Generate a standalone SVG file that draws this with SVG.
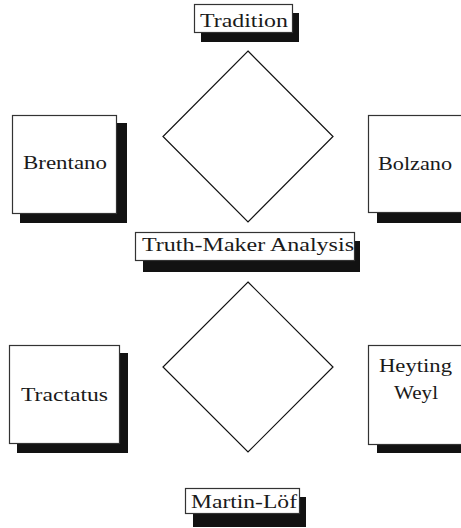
<svg xmlns="http://www.w3.org/2000/svg" width="461" height="528" viewBox="0 0 461 528">
<style>
.box{fill:#fff;stroke:#333;stroke-width:1.2}
.sh{fill:#121212;stroke:none}
.dia{fill:none;stroke:#111;stroke-width:1.2}
text{font-family:"Liberation Serif","Times New Roman",serif;font-size:19px;fill:#1a1a1a}
</style>
<rect width="461" height="528" fill="#fff"/>
<g id="connectors">
  <polygon class="dia" points="248,51 333,136.5 248,222 163,136.5"/>
  <polygon class="dia" points="248,282 333,367 248,452 163,367"/>
</g>
<g id="tradition">
  <rect class="sh" x="201" y="13" width="98" height="29"/>
  <rect class="box" x="194.5" y="4.5" width="98" height="28"/>
  <text x="200" y="27" textLength="88" lengthAdjust="spacingAndGlyphs">Tradition</text>
</g>
<g id="brentano">
  <rect class="sh" x="20" y="123" width="107" height="100"/>
  <rect class="box" x="12.5" y="115.5" width="104" height="98"/>
  <text x="23" y="169" textLength="84" lengthAdjust="spacingAndGlyphs">Brentano</text>
</g>
<g id="bolzano">
  <rect class="sh" x="377" y="123" width="100" height="100"/>
  <rect class="box" x="368.5" y="115.5" width="110" height="97"/>
  <text x="378" y="170" textLength="74" lengthAdjust="spacingAndGlyphs">Bolzano</text>
</g>
<g id="truth-maker">
  <rect class="sh" x="143" y="241" width="217" height="31"/>
  <rect class="box" x="135.5" y="232.5" width="219" height="28"/>
  <text x="142" y="251" textLength="212" lengthAdjust="spacingAndGlyphs">Truth-Maker Analysis</text>
</g>
<g id="tractatus">
  <rect class="sh" x="17" y="353" width="111" height="100"/>
  <rect class="box" x="9.5" y="345.5" width="110" height="98"/>
  <text x="21" y="401" textLength="87" lengthAdjust="spacingAndGlyphs">Tractatus</text>
</g>
<g id="heyting-weyl">
  <rect class="sh" x="377" y="353" width="100" height="100"/>
  <rect class="box" x="368.5" y="345.5" width="110" height="99"/>
  <text x="379" y="372" textLength="73" lengthAdjust="spacingAndGlyphs">Heyting</text>
  <text x="394" y="399" textLength="44" lengthAdjust="spacingAndGlyphs">Weyl</text>
</g>
<g id="martin-lof">
  <rect class="sh" x="193" y="497" width="113" height="30"/>
  <rect class="box" x="185.5" y="488.5" width="114" height="25"/>
  <text x="191" y="508" textLength="106" lengthAdjust="spacingAndGlyphs">Martin-Löf</text>
</g>
</svg>
